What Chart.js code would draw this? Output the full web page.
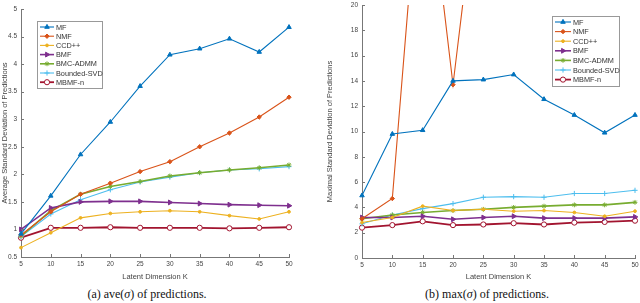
<!DOCTYPE html>
<html>
<head>
<meta charset="utf-8">
<script src="https://cdn.jsdelivr.net/npm/chart.js@4.4.1/dist/chart.umd.min.js"></script>
<style>
body { margin: 0; background: #fff; }
#wrap { position: relative; width: 640px; height: 303px; overflow: hidden; }
.box { position: absolute; top: 0; width: 320px; height: 285px; }
.cap { position: absolute; top: 287px; font-family: "Liberation Serif", serif; font-size: 12px; color: #111; white-space: nowrap; transform: translateX(-50%); }
</style>
</head>
<body>
<div id="wrap">
    <div class="box" style="left:0"><canvas id="aveChart"></canvas></div>
    <div class="box" style="left:320px"><canvas id="maxChart"></canvas></div>
    <div class="cap" style="left:147px">(a) ave(<i>σ</i>) of predictions.</div>
    <div class="cap" style="left:487px">(b) max(<i>σ</i>) of predictions.</div>
</div>
<script>
const kValues = [5, 10, 15, 20, 25, 30, 35, 40, 45, 50];
const seriesNames = ["MF", "NMF", "CCD++", "BMF", "BMC-ADMM", "Bounded-SVD", "MBMF-n"];

// (a) average std of predictions
const aveMF      = [0.92, 1.61, 2.36, 2.95, 3.60, 4.17, 4.28, 4.46, 4.22, 4.67];
const aveNMF     = [0.90, 1.32, 1.64, 1.84, 2.05, 2.23, 2.50, 2.75, 3.04, 3.40];
const aveCCD     = [0.67, 0.94, 1.21, 1.29, 1.32, 1.34, 1.32, 1.25, 1.19, 1.32];
const aveBMF     = [1.00, 1.39, 1.50, 1.51, 1.51, 1.49, 1.47, 1.45, 1.44, 1.43];
const aveBMC     = [0.88, 1.34, 1.64, 1.78, 1.87, 1.97, 2.03, 2.08, 2.12, 2.17];
const aveBSVD    = [0.87, 1.28, 1.54, 1.72, 1.86, 1.95, 2.03, 2.08, 2.10, 2.14];
const aveMBMF    = [0.85, 1.03, 1.03, 1.04, 1.03, 1.03, 1.03, 1.02, 1.03, 1.04];

// (b) max std of predictions
const maxMF      = [4.94, 9.8, 10.1, 14.0, 14.1, 14.5, 12.55, 11.3, 9.9, 11.3];
const maxNMF     = [3.1, 4.7, 34, 13.7, 33.5, 45, 55, 60, 65, 70];
const maxCCD     = [2.8, 3.2, 4.1, 3.75, 3.85, 3.7, 3.75, 3.6, 3.3, 3.7];
const maxBMF     = [3.2, 3.2, 3.3, 3.06, 3.2, 3.3, 3.15, 3.15, 3.15, 3.25];
const maxBMC     = [3.1, 3.4, 3.6, 3.75, 3.85, 4.0, 4.1, 4.2, 4.2, 4.4];
const maxBSVD    = [2.7, 3.4, 3.9, 4.3, 4.8, 4.85, 4.8, 5.1, 5.1, 5.35];
const maxMBMF    = [2.4, 2.6, 2.9, 2.6, 2.65, 2.75, 2.65, 2.8, 2.85, 2.95];

const aveTicks = [0.5, 1, 1.5, 2, 2.5, 3, 3.5, 4, 4.5, 5];
const maxTicks = [0, 2, 4, 6, 8, 10, 12, 14, 16, 18, 20];

const colors = ["#0072BD", "#D95319", "#EDB120", "#7E2F8E", "#77AC30", "#4DBEEE", "#A2142F"];
const markers = ["triangle", "rectRot", "circle", "triangle", "star", "cross", "circle"];
const markerRot = [0, 0, 0, 90, 0, 0, 0];
const markerSize = [2.6, 2.2, 1.4, 2.8, 2.4, 2.6, 2.6];
const lineW = [1.1, 1.1, 1.1, 1.6, 1.6, 1.1, 1.8];

const axisFont = { family: "'Liberation Sans', Arial, sans-serif", size: 6.5 };
const titleFont = { family: "'Liberation Sans', Arial, sans-serif", size: 7.5 };

// MATLAB-ish inward ticks + legend box
const matlabLook = {
    id: "matlabLook",
    afterDraw(chart, args, opts) {
        const ctx = chart.ctx;
        const area = chart.chartArea;
        const xs = chart.scales.x, ys = chart.scales.y;
        ctx.save();
        ctx.strokeStyle = "#777";
        ctx.lineWidth = 1;
        ctx.beginPath();
        xs.ticks.forEach((t, i) => {
            const px = Math.round(xs.getPixelForTick(i)) + 0.5;
            ctx.moveTo(px, area.bottom);
            ctx.lineTo(px, area.bottom - 3);
        });
        ys.ticks.forEach((t, i) => {
            const py = Math.round(ys.getPixelForTick(i)) + 0.5;
            ctx.moveTo(area.left, py);
            ctx.lineTo(area.left + 3, py);
        });
        ctx.stroke();

        // legend
        const L = opts;
        ctx.fillStyle = "#fff";
        ctx.fillRect(L.x, L.y, L.w, L.h);
        ctx.strokeStyle = "#999";
        ctx.strokeRect(L.x + 0.5, L.y + 0.5, L.w, L.h);
        ctx.font = "7.3px 'Liberation Sans', Arial, sans-serif";
        ctx.textBaseline = "middle";
        chart.data.datasets.forEach((ds, i) => {
            const y = L.y + 6 + i * L.row;
            ctx.strokeStyle = ds.borderColor;
            ctx.lineWidth = ds.borderWidth;
            ctx.beginPath();
            ctx.moveTo(L.x + 3, y);
            ctx.lineTo(L.x + 3 + L.line, y);
            ctx.stroke();
            ctx.fillStyle = ds.pointBackgroundColor;
            ctx.strokeStyle = ds.borderColor;
            ctx.lineWidth = 1;
            Chart.helpers.drawPoint(ctx, {
                pointStyle: ds.pointStyle, radius: ds.pointRadius,
                rotation: ds.pointRotation, borderWidth: 1
            }, L.x + 3 + L.line / 2, y);
            ctx.fillStyle = "#333";
            ctx.fillText(ds.label, L.x + 5 + L.line, y + 0.5);
        });
        ctx.restore();
    }
};

function buildDatasets(series) {
    return series.map((vals, i) => ({
        label: seriesNames[i],
        data: vals,
        borderColor: colors[i],
        backgroundColor: colors[i],
        pointBackgroundColor: i === 6 ? "#fff" : colors[i],
        pointBorderColor: colors[i],
        borderWidth: lineW[i],
        pointStyle: markers[i],
        pointRotation: markerRot[i],
        pointRadius: markerSize[i],
        pointBorderWidth: 1,
        tension: 0
    }));
}

function renderChart(id, series, yTicks, yTitle, yWidth, xHeight, pad, titlePad, legend) {
    new Chart(document.getElementById(id), {
        type: "line",
        data: { labels: kValues, datasets: buildDatasets(series) },
        plugins: [matlabLook],
        options: {
            responsive: true,
            maintainAspectRatio: false,
            animation: false,
            layout: { padding: pad },
            plugins: {
                legend: { display: false },
                tooltip: { enabled: false },
                matlabLook: legend
            },
            scales: {
                x: {
                    type: "category",
                    offset: false,
                    grid: { display: false, drawTicks: false },
                    border: { display: true, color: "#777", width: 1 },
                    ticks: { color: "#444", font: axisFont, padding: 3, maxRotation: 0, autoSkip: false },
                    title: { display: true, text: "Latent Dimension K", color: "#444", font: titleFont, padding: { top: 0, bottom: 4 } },
                    afterFit: s => { s.height = xHeight; s.paddingLeft = 0; s.paddingRight = 0; }
                },
                y: {
                    type: "linear",
                    min: yTicks[0],
                    max: yTicks[yTicks.length - 1],
                    grid: { display: false, drawTicks: false },
                    border: { display: true, color: "#777", width: 1 },
                    afterBuildTicks: s => { s.ticks = yTicks.map(v => ({ value: v })); },
                    ticks: { color: "#444", font: axisFont, padding: 4, callback: v => String(v) },
                    title: { display: true, text: yTitle, color: "#444", font: titleFont, padding: { top: titlePad, bottom: 0 } },
                    afterFit: s => { s.width = yWidth; s.paddingTop = 0; s.paddingBottom = 0; }
                }
            }
        }
    });
}

renderChart("aveChart",
    [aveMF, aveNMF, aveCCD, aveBMF, aveBMC, aveBSVD, aveMBMF],
    aveTicks, "Average Standard Deviation of Predictions",
    21, 28, { left: 0, top: 9, right: 31, bottom: 0 }, 0,
    { x: 37, y: 21, w: 65, h: 67, row: 9.2, line: 14 });

renderChart("maxChart",
    [maxMF, maxNMF, maxCCD, maxBMF, maxBMC, maxBSVD, maxMBMF],
    maxTicks, "Maximal Standard Deviation of Predictions",
    42, 27, { left: 0, top: 3, right: 4, bottom: 0 }, 5.5,
    { x: 232, y: 16, w: 67, h: 70, row: 9.6, line: 16 });
</script>
</body>
</html>
